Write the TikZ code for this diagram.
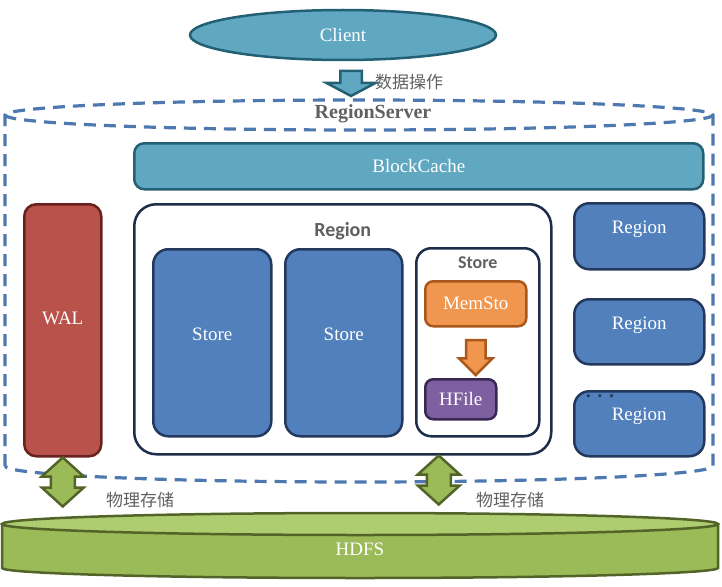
\documentclass[tikz,border=0pt]{standalone}
\usepackage{fontspec}
\setmainfont{Liberation Serif}
\setsansfont{Carlito}
\newfontfamily\cjk{Noto Sans CJK SC}
\usepackage{tikz}
\usetikzlibrary{calc}
\usetikzlibrary{positioning}
\usetikzlibrary{shapes.geometric,shapes.arrows}
\definecolor{cachefill}{RGB}{96,168,193}
\definecolor{cachedraw}{RGB}{36,96,116}
\definecolor{servline}{RGB}{78,120,176}
\definecolor{walfill}{RGB}{186,82,76}
\definecolor{waldraw}{RGB}{104,34,30}
\definecolor{storefill}{RGB}{81,128,189}
\definecolor{storedraw}{RGB}{34,56,92}
\definecolor{regiondraw}{RGB}{28,46,74}
\definecolor{memfill}{RGB}{240,150,78}
\definecolor{memdraw}{RGB}{170,88,28}
\definecolor{hfilefill}{RGB}{126,96,160}
\definecolor{hfiledraw}{RGB}{56,40,82}
\definecolor{hdfsfill}{RGB}{155,187,89}
\definecolor{hdfstop}{RGB}{174,204,112}
\definecolor{hdfsdraw}{RGB}{82,100,40}
\definecolor{labelgray}{RGB}{96,96,96}

\begin{document}
\begin{tikzpicture}[x=1pt,y=-1pt,line width=2.5pt,
  box node/.style={rectangle,rounded corners=#1,draw,anchor=north west,inner sep=0pt,text=white,font=\fontsize{19}{22}\selectfont},
  box node/.default=12pt,
  cache node/.style={box node=10pt,fill=cachefill,draw=cachedraw},
  wal node/.style={box node,fill=walfill,draw=waldraw},
  store node/.style={box node=15pt,fill=storefill,draw=storedraw},
  holder node/.style={box node=#1,fill=white,draw=regiondraw},
  mem node/.style={box node=8pt,fill=memfill,draw=memdraw},
  hfile node/.style={box node=8pt,fill=hfilefill,draw=hfiledraw},
  title node/.style={font=\sffamily\bfseries\fontsize{20}{24}\selectfont,text=labelgray,inner sep=0pt},
  cjk label/.style={font=\cjk\fontsize{17}{20}\selectfont,text=labelgray},
  serv line/.style={draw=servline,line width=3.2pt,dash pattern=on 12pt off 8pt},
  client arrow/.style={single arrow,draw=cachedraw,fill=cachefill,rotate=-90,inner sep=0pt,inner ysep=9.5pt,
    minimum height=25pt,minimum width=47pt,single arrow head extend=14pt,single arrow tip angle=124},
  mem arrow/.style={single arrow,draw=memdraw,fill=memfill,rotate=-90,inner sep=0pt,inner ysep=8.5pt,
    minimum height=35pt,minimum width=31pt,single arrow head extend=7pt},
  io arrow/.style={draw=hdfsdraw,fill=hdfsfill,line join=miter}]

  \useasboundingbox (0,0) rectangle (722,586);

  \draw[serv line] (5,466) -- (5,115) arc[start angle=180,end angle=0,x radius=354pt,y radius=15pt]
    -- (713,466) arc[start angle=0,end angle=-180,x radius=354pt,y radius=16pt];
  \draw[serv line] (5,115) arc[start angle=180,end angle=360,x radius=354pt,y radius=15pt];
  \coordinate (servtop) at (359,100);

  \fill[hdfsfill] (2,524) -- (2,568) arc[start angle=180,end angle=360,x radius=358pt,y radius=10pt]
    -- (718,524) arc[start angle=0,end angle=180,x radius=358pt,y radius=11pt] -- cycle;
  \draw[hdfsdraw] (2,524) -- (2,568) arc[start angle=180,end angle=360,x radius=358pt,y radius=10pt] -- (718,524);
  \filldraw[fill=hdfstop,draw=hdfsdraw] (360,524) ellipse[x radius=358pt,y radius=11pt];
  \node[text=white,font=\fontsize{19}{22}\selectfont] (hdfs) at (360,549) {HDFS};

  \node[ellipse,fill=cachefill,draw=cachedraw,minimum width=306pt,minimum height=50pt,text=white,
    font=\fontsize{19}{22}\selectfont] (client) at (343,35) {Client};
  \node[font=\bfseries\fontsize{20}{24}\selectfont,text=labelgray] (server) at (373,114) {RegionServer};

  \node[cache node,minimum width=569pt,minimum height=46pt] (cache) at (133,142) {BlockCache};
  \node[wal node,minimum width=77pt,minimum height=252pt,text depth=24pt] (wal) at (23,203) {WAL};
  \node[holder node=22pt,minimum width=417pt,minimum height=250pt] (region) at (133,203) {};
  \node[title node] (regtitle) [below=18pt of region.north] {Region};
  \node[store node,minimum width=118pt,minimum height=187pt,text depth=18pt] (store1) at (152,248) {Store};
  \node[store node,minimum width=117pt,minimum height=187pt,text depth=18pt] (store2) at (284,248) {Store};
  \node[holder node=15pt,minimum width=123pt,minimum height=188pt] (store3) at (415,247) {};
  \node[title node,font=\sffamily\bfseries\fontsize{18}{22}\selectfont] (storetitle) [below=8pt of store3.north] {Store};
  \node[mem node,minimum width=101pt,minimum height=45pt] (mem) at (424,280) {MemSto};
  \node[hfile node,minimum width=71pt,minimum height=40pt] (hfile) at (424,378) {HFile};

  \node[store node=10pt,minimum width=130pt,minimum height=66pt,text depth=19pt] (region1) at (573,202) {Region};
  \node[store node=10pt,minimum width=130pt,minimum height=65pt,text depth=18pt] (region2) at (573,298) {Region};
  \node[store node=10pt,minimum width=130pt,minimum height=65pt,text depth=19pt] (region3) at (573,390) {Region};
  \node[text=storedraw,font=\fontsize{13}{13}\selectfont,inner sep=0pt] (more) at (600,398)
    {\textbullet\hspace{7pt}\textbullet\hspace{7pt}\textbullet};

  \node[client arrow] (op) at ($(client.south)!0.5!(servtop)$) {};
  \node[cjk label] (oplabel) at (409,82) {数据操作};
  \node[mem arrow] (flush) at ($(mem.south)!0.5!(mem.south |- hfile.north)$) {};
  \coordinate (regionout) at ($(region.south)+(96,0)$);
  \foreach \from in {wal.south,regionout}
    \draw[io arrow] (\from) -- ++(21,19) -- ++(-9,0) -- ++(0,11) -- ++(9,0) -- ++(-21,19)
      -- ++(-21,-19) -- ++(9,0) -- ++(0,-11) -- ++(-9,0) -- cycle;
  \node[cjk label] (walabel) at (140,500) {物理存储};
  \node[cjk label] (regionlabel) at (510,500) {物理存储};

\end{tikzpicture}
\end{document}
